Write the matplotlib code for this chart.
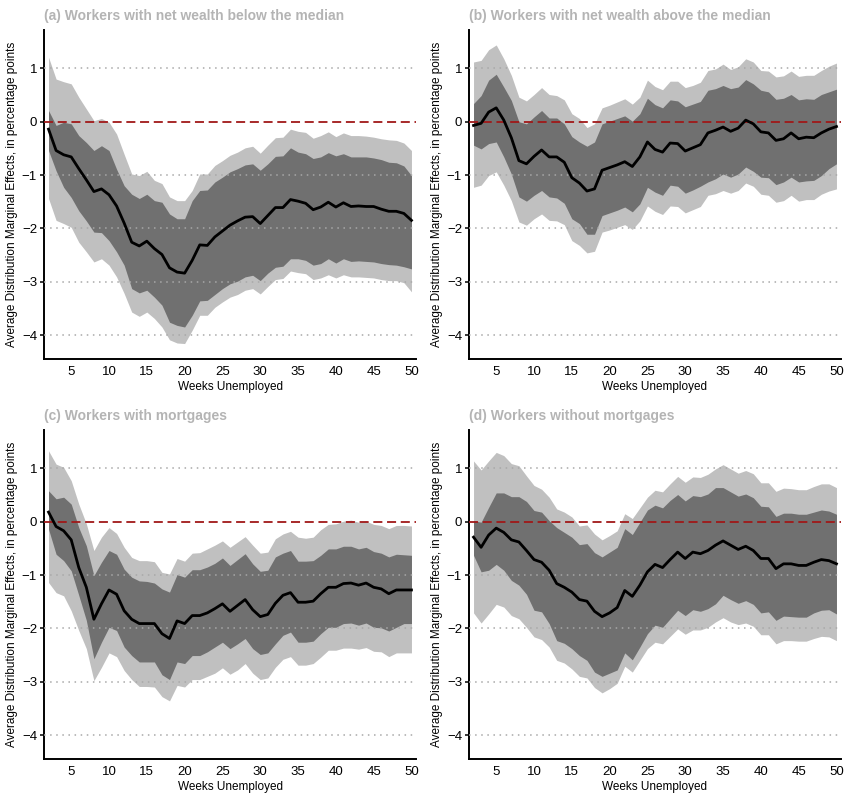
import numpy as np
import matplotlib
matplotlib.use("Agg")
import matplotlib.pyplot as plt

plt.rcParams["font.family"] = ["Liberation Sans", "DejaVu Sans"]

# ─────────────────────────────────────────────────
# data (weeks 2..50)
# ─────────────────────────────────────────────────
weeks = list(range(2, 51))

titles = [
    "(a) Workers with net wealth below the median",
    "(b) Workers with net wealth above the median",
    "(c) Workers with mortgages",
    "(d) Workers without mortgages",
]

# panel (a)
a_est = [-0.14, -0.54, -0.62, -0.66, -0.88, -1.09, -1.31, -1.26, -1.37, -1.58, -1.9, -2.26, -2.33, -2.24, -2.38, -2.49, -2.74, -2.82, -2.84, -2.6, -2.31, -2.32, -2.16, -2.05, -1.94, -1.86, -1.79, -1.78, -1.91, -1.76, -1.61, -1.61, -1.46, -1.49, -1.53, -1.65, -1.6, -1.51, -1.6, -1.52, -1.59, -1.58, -1.59, -1.59, -1.64, -1.68, -1.68, -1.72, -1.85]
a_in_hi = [0.21, -0.07, -0.01, -0.04, -0.26, -0.39, -0.54, -0.45, -0.54, -0.89, -1.2, -1.36, -1.44, -1.36, -1.48, -1.51, -1.73, -1.82, -1.82, -1.48, -1.29, -1.28, -1.13, -1.04, -0.94, -0.88, -0.81, -0.79, -0.91, -0.79, -0.65, -0.64, -0.49, -0.57, -0.6, -0.69, -0.66, -0.58, -0.64, -0.6, -0.66, -0.66, -0.66, -0.68, -0.71, -0.76, -0.77, -0.83, -1.01]
a_in_lo = [-0.54, -0.92, -1.23, -1.42, -1.67, -1.86, -2.07, -2.08, -2.23, -2.44, -2.69, -3.13, -3.21, -3.16, -3.29, -3.44, -3.76, -3.82, -3.85, -3.63, -3.36, -3.35, -3.24, -3.13, -3.04, -2.99, -2.91, -2.88, -2.98, -2.84, -2.73, -2.71, -2.57, -2.57, -2.6, -2.69, -2.66, -2.57, -2.65, -2.57, -2.62, -2.61, -2.62, -2.63, -2.66, -2.68, -2.69, -2.72, -2.76]
a_out_hi = [1.21, 0.8, 0.75, 0.71, 0.46, 0.24, 0.02, 0.06, -0.01, -0.23, -0.61, -0.98, -1.01, -0.93, -1.1, -1.16, -1.41, -1.48, -1.48, -1.29, -0.98, -0.98, -0.82, -0.73, -0.63, -0.57, -0.49, -0.46, -0.59, -0.44, -0.3, -0.29, -0.14, -0.18, -0.2, -0.31, -0.26, -0.19, -0.28, -0.21, -0.26, -0.26, -0.27, -0.29, -0.32, -0.34, -0.35, -0.4, -0.54]
a_out_lo = [-1.44, -1.85, -1.91, -1.98, -2.26, -2.44, -2.63, -2.57, -2.69, -2.91, -3.22, -3.57, -3.65, -3.57, -3.69, -3.85, -4.09, -4.15, -4.16, -3.91, -3.63, -3.63, -3.48, -3.38, -3.29, -3.24, -3.16, -3.13, -3.23, -3.09, -2.96, -2.94, -2.8, -2.83, -2.85, -2.96, -2.93, -2.87, -2.93, -2.87, -2.91, -2.91, -2.92, -2.93, -2.96, -2.98, -2.98, -3.02, -3.19]

# panel (b)
b_est = [-0.07, -0.03, 0.18, 0.26, 0.03, -0.3, -0.73, -0.79, -0.65, -0.53, -0.66, -0.66, -0.76, -1.05, -1.15, -1.3, -1.26, -0.91, -0.86, -0.81, -0.75, -0.84, -0.66, -0.38, -0.52, -0.57, -0.4, -0.41, -0.55, -0.49, -0.43, -0.21, -0.16, -0.1, -0.18, -0.12, 0.03, -0.04, -0.19, -0.21, -0.35, -0.32, -0.21, -0.32, -0.29, -0.3, -0.21, -0.14, -0.09]
b_in_hi = [0.34, 0.49, 0.78, 0.89, 0.65, 0.4, 0.0, -0.04, 0.09, 0.21, 0.07, 0.07, -0.04, -0.28, -0.38, -0.46, -0.38, -0.04, 0.01, 0.06, 0.11, 0.01, 0.15, 0.44, 0.32, 0.26, 0.41, 0.39, 0.28, 0.33, 0.38, 0.59, 0.62, 0.68, 0.62, 0.65, 0.79, 0.71, 0.59, 0.56, 0.42, 0.44, 0.51, 0.41, 0.43, 0.42, 0.51, 0.56, 0.61]
b_in_lo = [-0.44, -0.51, -0.41, -0.38, -0.66, -0.98, -1.41, -1.49, -1.38, -1.29, -1.41, -1.43, -1.53, -1.82, -1.91, -2.11, -2.11, -1.76, -1.71, -1.66, -1.6, -1.69, -1.54, -1.23, -1.32, -1.38, -1.19, -1.21, -1.34, -1.28, -1.21, -1.13, -1.07, -0.98, -1.04, -0.98, -0.85, -0.93, -1.04, -1.05, -1.18, -1.13, -1.04, -1.13, -1.11, -1.1, -1.01, -0.88, -0.79]
b_out_hi = [1.12, 1.15, 1.35, 1.44, 1.18, 0.87, 0.46, 0.39, 0.51, 0.64, 0.51, 0.49, 0.41, 0.15, 0.06, -0.11, -0.04, 0.26, 0.31, 0.37, 0.43, 0.33, 0.46, 0.78, 0.66, 0.6, 0.76, 0.76, 0.64, 0.68, 0.74, 0.96, 0.99, 1.08, 0.98, 1.03, 1.18, 1.12, 0.96, 0.95, 0.84, 0.86, 0.95, 0.85, 0.87, 0.87, 0.96, 1.04, 1.1]
b_out_lo = [-1.23, -1.19, -1.01, -0.94, -1.19, -1.48, -1.88, -1.94, -1.82, -1.73, -1.85, -1.86, -1.93, -2.23, -2.32, -2.46, -2.43, -2.07, -2.03, -1.98, -1.93, -2.02, -1.86, -1.58, -1.68, -1.74, -1.58, -1.59, -1.71, -1.65, -1.59, -1.38, -1.35, -1.29, -1.34, -1.29, -1.15, -1.21, -1.36, -1.38, -1.51, -1.48, -1.38, -1.49, -1.46, -1.46, -1.36, -1.3, -1.26]

# panel (c)
c_est = [0.18, -0.09, -0.17, -0.34, -0.86, -1.23, -1.83, -1.54, -1.28, -1.36, -1.67, -1.83, -1.91, -1.91, -1.91, -2.1, -2.19, -1.86, -1.91, -1.76, -1.76, -1.71, -1.63, -1.54, -1.68, -1.57, -1.46, -1.65, -1.78, -1.74, -1.53, -1.38, -1.33, -1.51, -1.51, -1.49, -1.35, -1.23, -1.23, -1.16, -1.15, -1.19, -1.15, -1.23, -1.26, -1.35, -1.28, -1.28, -1.28]
c_in_hi = [0.58, 0.43, 0.46, 0.33, -0.11, -0.45, -1.01, -0.76, -0.54, -0.61, -0.89, -1.04, -1.11, -1.12, -1.15, -1.26, -1.32, -0.99, -1.04, -0.9, -0.9, -0.85, -0.78, -0.68, -0.82, -0.71, -0.6, -0.79, -0.93, -0.91, -0.66, -0.59, -0.54, -0.74, -0.74, -0.73, -0.63, -0.51, -0.51, -0.46, -0.46, -0.51, -0.48, -0.56, -0.59, -0.66, -0.61, -0.62, -0.63]
c_in_lo = [-0.14, -0.61, -0.73, -0.92, -1.38, -1.85, -2.57, -2.26, -1.98, -2.04, -2.35, -2.51, -2.63, -2.63, -2.63, -2.87, -2.96, -2.63, -2.66, -2.51, -2.51, -2.44, -2.35, -2.26, -2.38, -2.29, -2.19, -2.38, -2.49, -2.46, -2.29, -2.13, -2.07, -2.26, -2.26, -2.24, -2.1, -1.98, -1.98, -1.91, -1.9, -1.94, -1.9, -1.98, -1.99, -2.05, -1.98, -1.91, -1.91]
c_out_hi = [1.33, 1.08, 1.02, 0.77, 0.33, -0.04, -0.54, -0.29, -0.11, -0.22, -0.48, -0.67, -0.73, -0.73, -0.75, -0.95, -0.98, -0.69, -0.74, -0.59, -0.58, -0.51, -0.44, -0.36, -0.48, -0.38, -0.28, -0.44, -0.59, -0.57, -0.32, -0.23, -0.18, -0.29, -0.31, -0.29, -0.15, -0.05, -0.04, 0.01, 0.03, -0.01, 0.01, -0.05, -0.07, -0.13, -0.07, -0.07, -0.08]
c_out_lo = [-1.14, -1.33, -1.39, -1.67, -2.04, -2.38, -2.98, -2.73, -2.46, -2.53, -2.79, -2.96, -3.09, -3.09, -3.1, -3.28, -3.36, -3.07, -3.1, -2.96, -2.96, -2.9, -2.84, -2.74, -2.86, -2.78, -2.66, -2.84, -2.96, -2.93, -2.73, -2.58, -2.53, -2.69, -2.69, -2.66, -2.54, -2.41, -2.41, -2.37, -2.37, -2.39, -2.36, -2.43, -2.44, -2.53, -2.46, -2.46, -2.46]

# panel (d)
d_est = [-0.29, -0.48, -0.25, -0.12, -0.2, -0.34, -0.38, -0.54, -0.71, -0.76, -0.91, -1.16, -1.23, -1.32, -1.46, -1.49, -1.68, -1.78, -1.71, -1.61, -1.29, -1.4, -1.19, -0.94, -0.8, -0.86, -0.71, -0.57, -0.69, -0.57, -0.6, -0.54, -0.44, -0.36, -0.44, -0.52, -0.46, -0.54, -0.69, -0.69, -0.88, -0.79, -0.79, -0.82, -0.82, -0.76, -0.71, -0.73, -0.79]
d_in_hi = [0.02, -0.01, 0.27, 0.54, 0.54, 0.47, 0.47, 0.38, 0.21, 0.18, 0.02, -0.11, -0.2, -0.29, -0.43, -0.41, -0.58, -0.66, -0.57, -0.48, -0.13, -0.24, -0.01, 0.22, 0.31, 0.26, 0.4, 0.51, 0.39, 0.49, 0.47, 0.52, 0.64, 0.64, 0.56, 0.48, 0.52, 0.45, 0.29, 0.28, 0.1, 0.16, 0.16, 0.14, 0.14, 0.18, 0.22, 0.2, 0.14]
d_in_lo = [-0.63, -0.94, -0.91, -0.8, -0.91, -1.1, -1.19, -1.36, -1.66, -1.69, -1.91, -2.23, -2.28, -2.38, -2.51, -2.6, -2.82, -2.9, -2.84, -2.78, -2.46, -2.59, -2.35, -2.1, -1.94, -1.98, -1.82, -1.66, -1.76, -1.65, -1.68, -1.63, -1.54, -1.38, -1.46, -1.53, -1.48, -1.55, -1.71, -1.69, -1.85, -1.77, -1.78, -1.79, -1.79, -1.71, -1.66, -1.65, -1.73]
d_out_hi = [1.14, 0.97, 1.14, 1.3, 1.24, 1.09, 1.05, 0.86, 0.68, 0.61, 0.46, 0.24, 0.18, 0.09, -0.08, -0.06, -0.23, -0.34, -0.26, -0.17, 0.15, 0.06, 0.26, 0.46, 0.59, 0.56, 0.71, 0.85, 0.74, 0.84, 0.83, 0.89, 0.99, 1.07, 0.99, 0.91, 0.96, 0.9, 0.73, 0.73, 0.57, 0.63, 0.62, 0.6, 0.6, 0.66, 0.71, 0.71, 0.64]
d_out_lo = [-1.71, -1.9, -1.73, -1.55, -1.6, -1.76, -1.82, -1.98, -2.16, -2.21, -2.35, -2.6, -2.65, -2.76, -2.9, -2.93, -3.11, -3.21, -3.13, -3.03, -2.71, -2.82, -2.6, -2.38, -2.26, -2.29, -2.15, -2.01, -2.11, -2.03, -2.03, -1.98, -1.88, -1.8, -1.88, -1.93, -1.9, -1.96, -2.12, -2.12, -2.29, -2.23, -2.23, -2.24, -2.24, -2.19, -2.15, -2.16, -2.23]

y_ticks = [1, 0, -1, -2, -3, -4]
x_ticks = [5, 10, 15, 20, 25, 30, 35, 40, 45, 50]

LIGHT = "#c0c0c0"
DARK = "#707070"
TITLE_GREY = "#b4b4b4"


# ─────────────────────────────────────────────────
# one panel
# ─────────────────────────────────────────────────
def draw_panel(ax, title, est, in_lo, in_hi, out_lo, out_hi):
    ax.fill_between(weeks, out_lo, out_hi, color=LIGHT, lw=0, zorder=1)
    ax.fill_between(weeks, in_lo, in_hi, color=DARK, lw=0, zorder=2)

    for t in y_ticks:
        if t == 0:
            continue
        ax.axhline(t, color="#a8a8a8", ls=(0, (1, 3)), lw=1.1, zorder=3)
    ax.axhline(0, color="#a01818", ls=(0, (5, 2.6)), lw=1.3, zorder=3)

    ax.plot(weeks, est, color="black", lw=2.0, zorder=4)

    ax.set_xlim(1.4, 50.6)
    ax.set_ylim(-4.45, 1.72)
    ax.set_xticks(x_ticks)
    ax.set_yticks(y_ticks)
    ax.tick_params(axis="both", labelsize=9.5, length=3, width=1.1, pad=2)
    ax.tick_params(axis="x", length=0, pad=5)

    for s in ("top", "right"):
        ax.spines[s].set_visible(False)
    for s in ("left", "bottom"):
        ax.spines[s].set_linewidth(1.4)

    ax.set_xlabel("Weeks Unemployed", fontsize=8.5, labelpad=2)
    ax.set_ylabel("Average Distribution Marginal Effects, in percentage points",
                  fontsize=8.5, labelpad=3)
    ax.set_title(title, loc="left", fontsize=10, fontweight="bold",
                 color=TITLE_GREY, pad=7, x=0.0)


panels = [
    (a_est, a_in_lo, a_in_hi, a_out_lo, a_out_hi),
    (b_est, b_in_lo, b_in_hi, b_out_lo, b_out_hi),
    (c_est, c_in_lo, c_in_hi, c_out_lo, c_out_hi),
    (d_est, d_in_lo, d_in_hi, d_out_lo, d_out_hi),
]

fig = plt.figure(figsize=(8.5, 8.0), dpi=100)
W, H = 850, 800
# axes boxes in pixels: left, top, right, bottom
boxes = [
    (44, 30, 416, 359),
    (469, 30, 841, 359),
    (44, 430, 416, 759),
    (469, 430, 841, 759),
]

for title, data, (l, t, r, b) in zip(titles, panels, boxes):
    ax = fig.add_axes([l / W, 1 - b / H, (r - l) / W, (b - t) / H])
    draw_panel(ax, title, *data)

fig.savefig("out.png", dpi=100)
